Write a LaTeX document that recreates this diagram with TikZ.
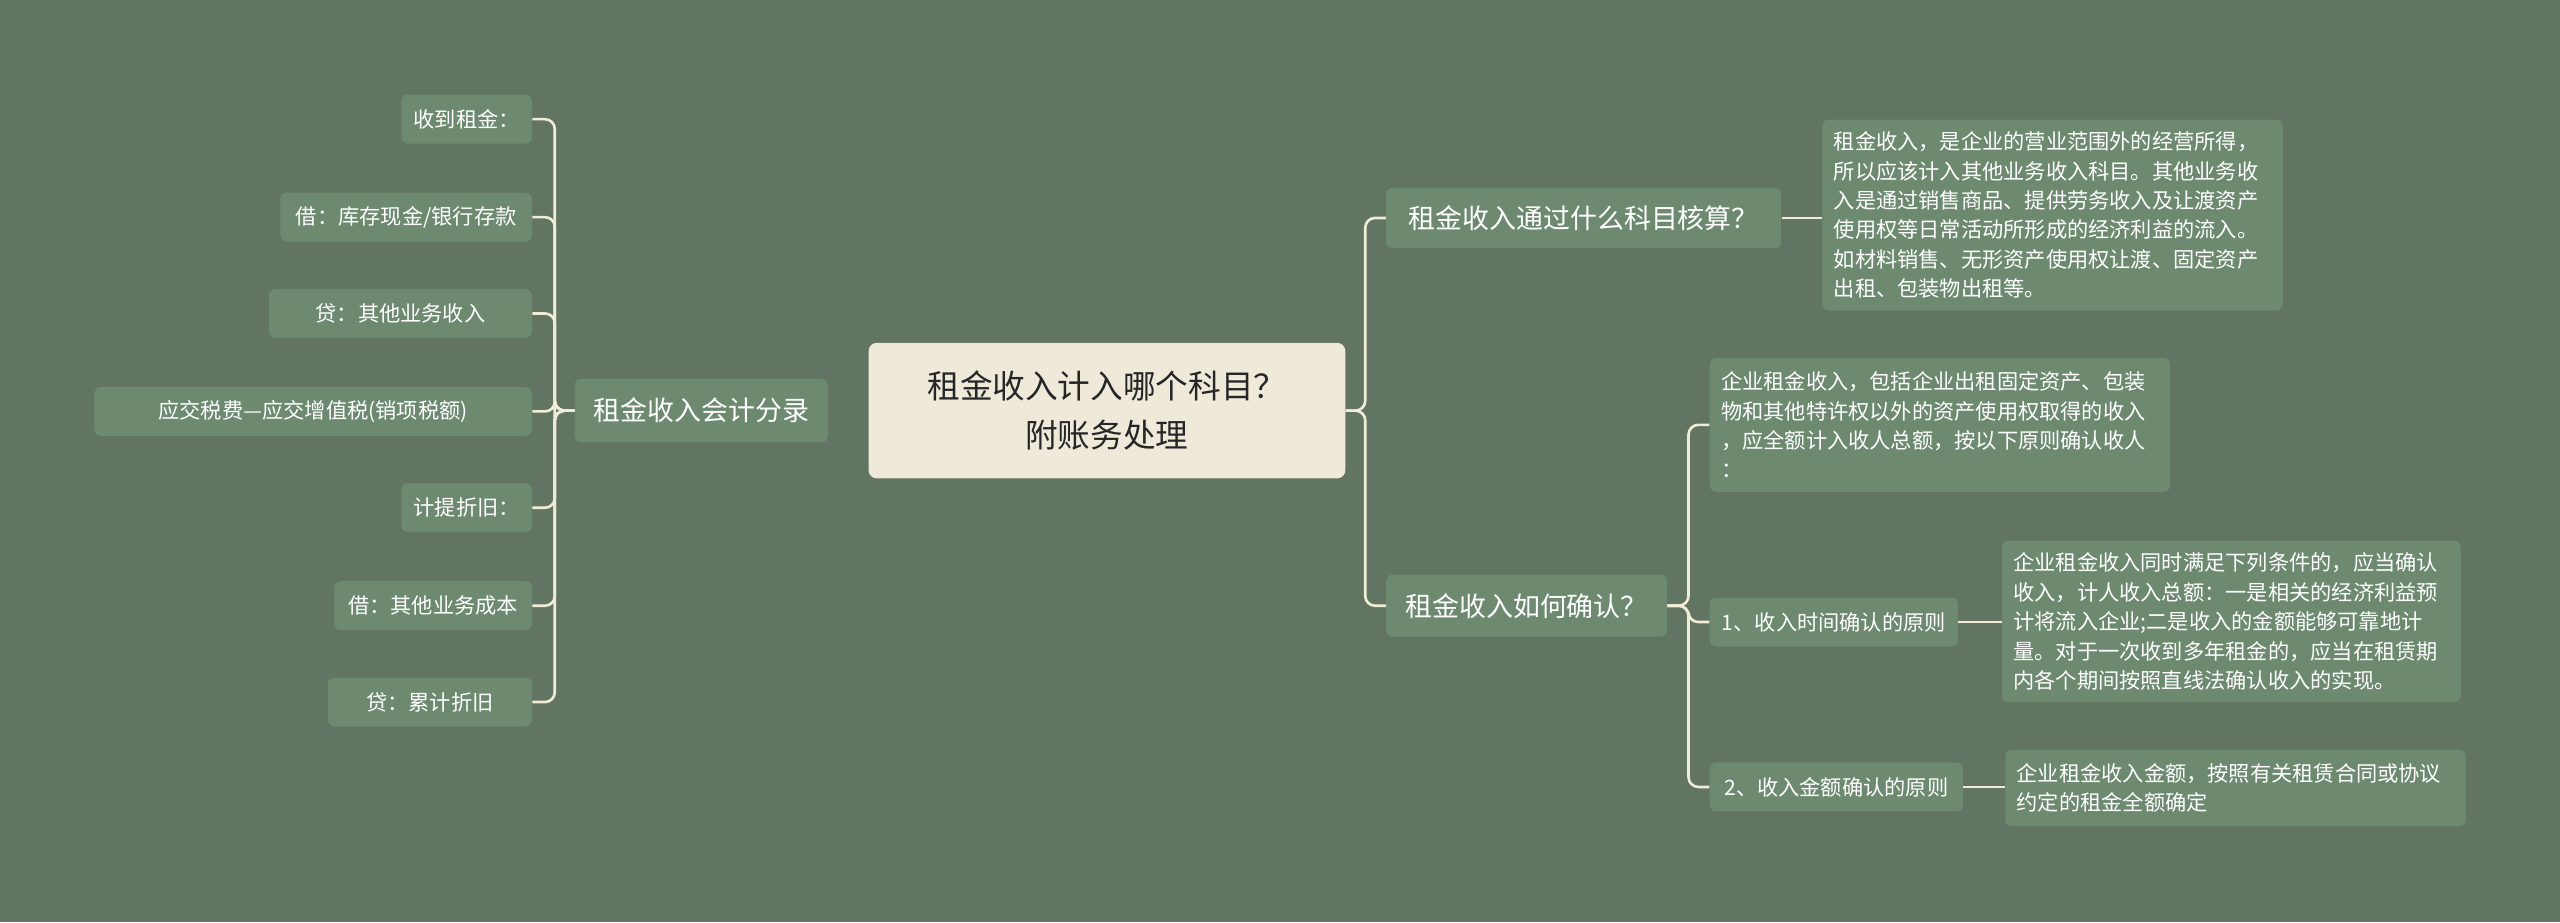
\documentclass[tikz,border=0pt]{standalone}
\usepackage{fontspec}
\setmainfont{Noto Sans CJK SC}
\definecolor{bg}{HTML}{627462}
\definecolor{nd}{HTML}{6D8A70}
\definecolor{ct}{HTML}{EFE9DA}
\definecolor{ln}{HTML}{F0ECD8}
\begin{document}
\begin{tikzpicture}[x=1pt,y=-1pt,
 box/.style={fill=nd,rounded corners=4,inner sep=0pt,text=white,font=\fontsize{13}{18}\selectfont},
 big/.style={box,font=\fontsize{16.5}{20}\selectfont},
 con/.style={draw=ln,line width=1.6pt,rounded corners=6}]
\fill[bg] (0,0) rectangle (1568,565);
\useasboundingbox (0,0) rectangle (1568,565);
\node[fill=ct,rounded corners=5,inner sep=0pt,minimum width=292,minimum height=83,align=center,text=black!85,font=\fontsize{20}{30}\selectfont] (c) at (678,251.5) {租金收入计入哪个科目？\\附账务处理};
\node[big,minimum width=155,minimum height=39] (lb) at (429.5,251.5) {租金收入会计分录};
\foreach \n/\t/\w/\y in {l1/{收到租金：}/80/73, l2/{借：库存现金/银行存款}/154/133, l3/{贷：其他业务收入}/161/192, l4/{应交税费—应交增值税(销项税额)}/268/252, l5/{计提折旧：}/80/311, l6/{借：其他业务成本}/121/371, l7/{贷：累计折旧}/125/430}{
 \node[box,minimum width=\w,minimum height=30,anchor=east] (\n) at (326,\y) {\t};
 \draw[con] (lb.west) -- ++(-12,0) |- (\n.east);
}
\node[big,minimum width=242,minimum height=37] (r1) at (970,133.5) {租金收入通过什么科目核算？};
\node[big,minimum width=172,minimum height=38] (r2) at (935,371) {租金收入如何确认？};
\draw[con] (c.east) -- ++(12,0) |- (r1.west);
\draw[con] (c.east) -- ++(12,0) |- (r2.west);
\node[box,anchor=north west,minimum width=282,minimum height=117,text width=268,align=left] (r1a) at (1116,73) {租金收入，是企业的营业范围外的经营所得，\\所以应该计入其他业务收入科目。其他业务收\\入是通过销售商品、提供劳务收入及让渡资产\\使用权等日常活动所形成的经济利益的流入。\\如材料销售、无形资产使用权让渡、固定资产\\出租、包装物出租等。};
\draw[con] (r1.east) -- (r1a.west |- r1.east);
\node[box,anchor=north west,minimum width=282,minimum height=82,text width=268,align=left] (s0) at (1047,219) {企业租金收入，包括企业出租固定资产、包装\\物和其他特许权以外的资产使用权取得的收入\\，应全额计入收人总额，按以下原则确认收人\\：};
\node[box,minimum width=152,minimum height=30,anchor=west] (s1) at (1047,381) {1、收入时间确认的原则};
\node[box,minimum width=155,minimum height=30,anchor=west] (s2) at (1047,482) {2、收入金额确认的原则};
\draw[con] (r2.east) -- ++(13,0) |- (s0.west);
\draw[con] (r2.east) -- ++(13,0) |- (s1.west);
\draw[con] (r2.east) -- ++(13,0) |- (s2.west);
\node[box,anchor=north west,minimum width=281,minimum height=99,text width=267,align=left] (s1a) at (1226,331) {企业租金收入同时满足下列条件的，应当确认\\收入，计人收入总额：一是相关的经济利益预\\计将流入企业;二是收入的金额能够可靠地计\\量。对于一次收到多年租金的，应当在租赁期\\内各个期间按照直线法确认收入的实现。};
\node[box,anchor=north west,minimum width=282,minimum height=47,text width=268,align=left] (s2a) at (1228,459) {企业租金收入金额，按照有关租赁合同或协议\\约定的租金全额确定};
\draw[con] (s1.east) -- (s1a.west |- s1.east);
\draw[con] (s2.east) -- (s2a.west |- s2.east);
\end{tikzpicture}
\end{document}
